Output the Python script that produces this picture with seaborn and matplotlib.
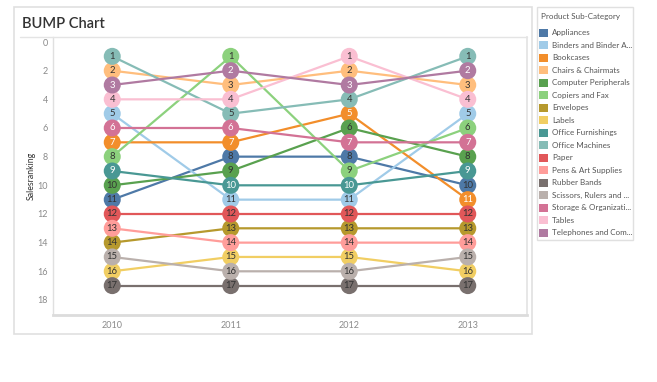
import matplotlib
matplotlib.use("Agg")
import matplotlib.pyplot as plt
from matplotlib.patches import Rectangle
import pandas as pd
import seaborn as sns

# ----------------------
# BUMP chart: sales ranking of product sub-categories per year
# ----------------------

years = [2010, 2011, 2012, 2013]
categories = [
    "Appliances", "Binders and Binder Accessories", "Bookcases", "Chairs & Chairmats",
    "Computer Peripherals", "Copiers and Fax", "Envelopes", "Labels",
    "Office Furnishings", "Office Machines", "Paper", "Pens & Art Supplies",
    "Rubber Bands", "Scissors, Rulers and Trimmers", "Storage & Organization",
    "Tables", "Telephones and Communication",
]
legend_labels = [
    "Appliances", "Binders and Binder A...", "Bookcases", "Chairs & Chairmats",
    "Computer Peripherals", "Copiers and Fax", "Envelopes", "Labels",
    "Office Furnishings", "Office Machines", "Paper", "Pens & Art Supplies",
    "Rubber Bands", "Scissors, Rulers and ...", "Storage & Organizati...",
    "Tables", "Telephones and Com...",
]
# rank per year (2010, 2011, 2012, 2013)
ranks = [
    [11, 8, 8, 10],
    [5, 11, 11, 5],
    [7, 7, 5, 11],
    [2, 3, 2, 3],
    [10, 9, 6, 8],
    [8, 1, 9, 6],
    [14, 13, 13, 13],
    [16, 15, 15, 16],
    [9, 10, 10, 9],
    [1, 5, 4, 1],
    [12, 12, 12, 12],
    [13, 14, 14, 14],
    [17, 17, 17, 17],
    [15, 16, 16, 15],
    [6, 6, 7, 7],
    [4, 4, 1, 4],
    [3, 2, 3, 2],
]
colors = [
    "#4E79A7", "#A0CBE8", "#F28E2B", "#FFBE7D", "#59A14F", "#8CD17D",
    "#B6992D", "#F1CE63", "#499894", "#86BCB6", "#E15759", "#FF9D9A",
    "#79706E", "#BAB0AC", "#D37295", "#FABFD2", "#B07AA1",
]
white_text = {"Telephones and Communication", "Storage & Organization",
              "Office Furnishings", "Bookcases"}

rows = []
for cat, r in zip(categories, ranks):
    for i, y in enumerate(years):
        rows.append({"category": cat, "year": str(y), "xi": i, "rank": r[i]})
df = pd.DataFrame(rows)
palette = dict(zip(categories, colors))

sns.set_theme(style="white")
plt.rcParams["font.family"] = ["Lato", "DejaVu Sans"]

W, H = 657, 382
fig = plt.figure(figsize=(W / 100, H / 100), dpi=100)

# card and legend frames
fig.patches.append(Rectangle((14 / W, 1 - 334 / H), 518 / W, 327 / H,
                             transform=fig.transFigure, fill=False,
                             edgecolor="#e0e0e0", linewidth=1.2))
fig.patches.append(Rectangle((537 / W, 1 - 240 / H), 96 / W, 233 / H,
                             transform=fig.transFigure, fill=False,
                             edgecolor="#e0e0e0", linewidth=1.0))
fig.lines.append(plt.Line2D([20 / W, 527 / W], [1 - 37 / H, 1 - 37 / H],
                            transform=fig.transFigure, color="#e4e4e4", lw=1))
fig.text(22 / W, 1 - 24 / H, "BUMP Chart", fontsize=10.5, color="#333333",
         va="center", ha="left", fontweight="semibold")

ax = fig.add_axes([53 / W, 1 - 315 / H, 474 / W, 278 / H])
sns.lineplot(data=df, x="xi", y="rank", hue="category", palette=palette,
             linewidth=1.6, legend=False, ax=ax, zorder=2)
sns.scatterplot(data=df, x="xi", y="rank", hue="category", palette=palette,
                s=150, linewidth=0, legend=False, ax=ax, zorder=3)
for _, row in df.iterrows():
    tc = "white" if row["category"] in white_text else "#333333"
    ax.text(row["xi"], row["rank"], str(row["rank"]), ha="center",
            va="center", fontsize=6.8, color=tc, zorder=4)

ax.set_xlim(-0.5, 3.5)
ax.set_ylim(19.05, -0.35)
ax.set_yticks(range(0, 19, 2))
ax.set_xticks(range(len(years)))
ax.set_xticklabels([str(y) for y in years])
ax.set_xticks([0.5, 1.5, 2.5], minor=True)
ax.tick_params(axis="both", which="major", labelsize=6.5, labelcolor="#8a8a8a",
               length=0, pad=4)
ax.tick_params(axis="x", which="minor", length=2, color="#dddddd", direction="out")
ax.tick_params(axis="y", pad=3.5)
ax.set_xlabel("")
ax.set_ylabel("Salesranking", fontsize=6.3, color="#333333")
ax.yaxis.set_label_coords(-0.037, 0.5)
ax.spines["top"].set_visible(False)
ax.spines["left"].set_color("#e0e0e0")
ax.spines["right"].set_color("#e4e4e4")
ax.spines["bottom"].set_color("#dcdcdc")
ax.spines["bottom"].set_linewidth(2)
ax.spines["left"].set_linewidth(1)

# legend
lax = fig.add_axes([537 / W, 1 - 240 / H, 96 / W, 233 / H])
lax.set_xlim(537, 633)
lax.set_ylim(240, 7)
lax.axis("off")
lax.text(541, 17, "Product Sub-Category", fontsize=5.8, color="#555555",
         va="center", ha="left")
for i, (lab, c) in enumerate(zip(legend_labels, colors)):
    yc = 32.5 + i * 12.53
    lax.add_patch(Rectangle((539, yc - 4), 9, 8, color=c, linewidth=0))
    lax.text(552, yc, lab, fontsize=5.8, color="#555555", va="center", ha="left")

fig.savefig("out.png", dpi=100)
